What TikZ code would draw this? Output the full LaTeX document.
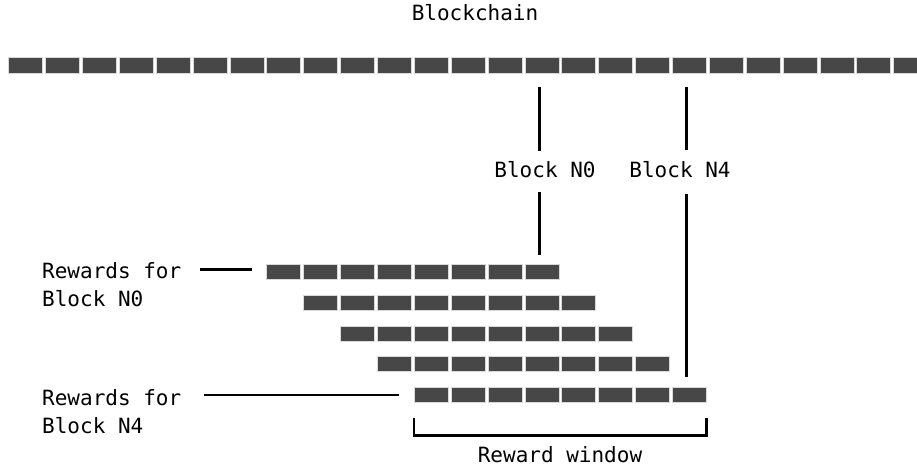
\documentclass[tikz,border=0pt]{standalone}
\usepackage{fontspec}
\setmonofont{DejaVu Sans Mono}
\usetikzlibrary{positioning}

\tikzset{
    blk/.style={draw=black!15, fill=black!72, line width=0.6pt, minimum width=34pt, minimum height=15.5pt, inner sep=0pt},
    lbl/.style={font=\ttfamily\fontsize{21}{28}\selectfont},
    stem/.style={line width=2.8pt},
}

\begin{document}
\begin{tikzpicture}[x=1pt, y=-1pt]
        \clip (0,0) rectangle (917,468);

        % chain title
        \node[lbl] (title) at (475,13) {Blockchain};

        % blockchain row
        \foreach \i in {0,...,24}
            \node[blk, anchor=west] (c\i) at (8.3+36.875*\i, 65.3) {};

        % reward rows, each one block further on
        \foreach \r/\y in {1/271.7, 2/302.5, 3/333.5, 4/364, 5/395} {
            \foreach \k in {0,...,7} {
                \pgfmathtruncatemacro{\i}{\r+6+\k}
                \node[blk, anchor=west, minimum height=15pt] (b\r-\i) at (8.3+36.875*\i, \y) {};
            }
        }

        % block labels and stems
        \node[lbl] (n0) at (545,170) {Block N0};
        \node[lbl] (n4) at (680,170) {Block N4};
        \draw[stem, shorten <=14pt, shorten >=7.5pt] ([xshift=-2.5pt]c14.south) -- ([xshift=-2.5pt]c14.south |- n0.north);
        \draw[stem, shorten <=14pt, shorten >=8.5pt] ([xshift=-2.5pt]c18.south) -- ([xshift=-2.5pt]c18.south |- n4.north);
        \draw[stem, shorten <=10pt, shorten >=9pt] ([xshift=-2.5pt]b1-14.north |- n0.south) -- ([xshift=-2.5pt]b1-14.north);
        \draw[stem, shorten <=12.5pt, shorten >=10pt] ([xshift=-2.5pt]b5-18.north |- n4.south) -- ([xshift=-2.5pt]b5-18.north);

        % reward labels
        \node[lbl, align=left, anchor=north west, inner sep=0pt] (rw0) at (42,262) {Rewards for\\Block N0};
        \node[lbl, align=left, anchor=north west, inner sep=0pt] (rw4) at (42,389) {Rewards for\\Block N4};
        \draw[stem, shorten <=14.5pt, shorten >=19pt] ([yshift=2.4pt]b1-7.west) -- ([yshift=2.4pt]b1-7.west -| rw0.east);
        \draw[stem, shorten <=14.5pt, shorten >=23pt] (b5-11.west) -- (b5-11.west -| rw4.east);

        % reward window bracket
        \draw[stem, line width=2.6pt] ([yshift=-15.5pt]b5-11.south west) -- ++(0,17) -| ([yshift=-15.5pt]b5-18.south east);
        \node[lbl] (rwin) at (560,455) {Reward window};
    \end{tikzpicture}
\end{document}
